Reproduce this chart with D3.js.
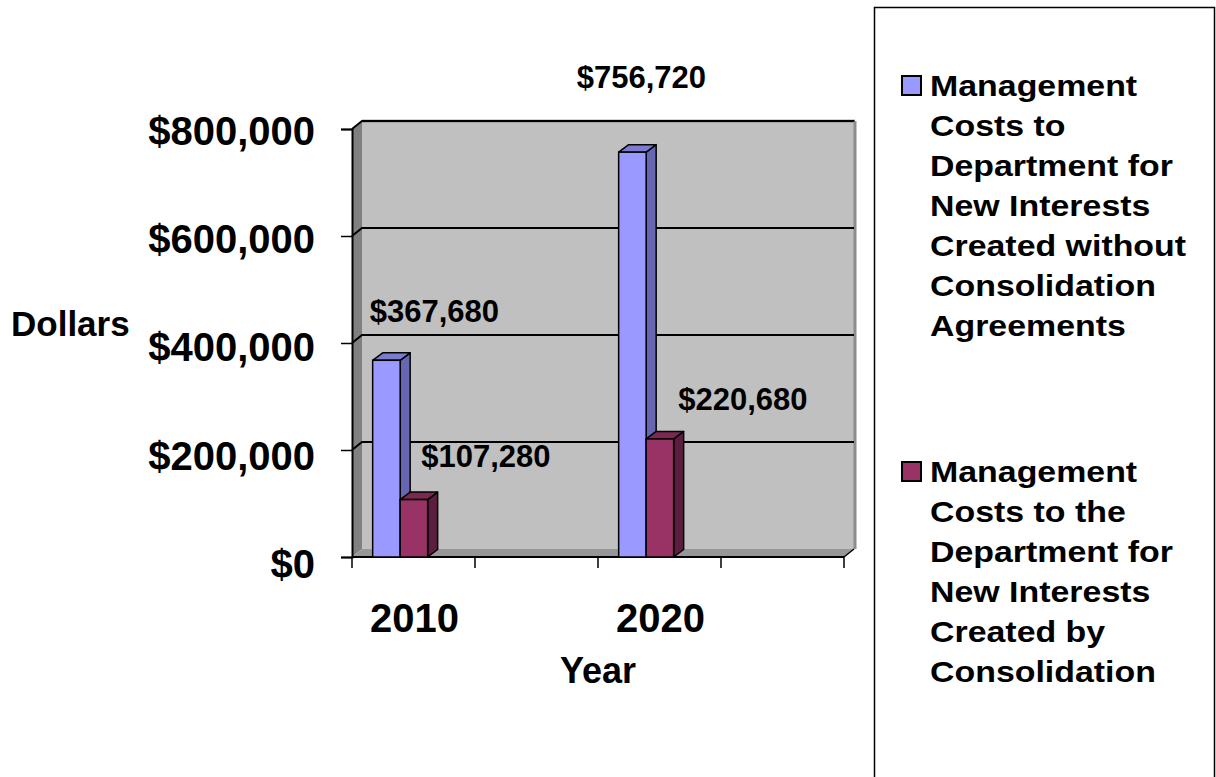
<!DOCTYPE html>
<html>
<head>
<meta charset="utf-8">
<script src="https://cdn.jsdelivr.net/npm/d3@7"></script>
<style>
  html, body { margin: 0; padding: 0; background: #ffffff; }
  svg { display: block; font-family: "Liberation Sans", Arial, sans-serif; font-weight: bold; }
</style>
</head>
<body>
<svg id="chart" width="1216" height="777"></svg>
<script>
// ---- data ----
const categories = ["2010", "2020"];
const seriesNames = [
  "Management Costs to Department for New Interests Created without Consolidation Agreements",
  "Management Costs to the Department for New Interests Created by Consolidation"
];
const withoutAgreements = [367680, 756720];
const byConsolidation   = [107280, 220680];
const yTicks = [0, 200000, 400000, 600000, 800000];
const legendLines = [
  ["Management", "Costs to", "Department for", "New Interests", "Created without", "Consolidation", "Agreements"],
  ["Management", "Costs to the", "Department for", "New Interests", "Created by", "Consolidation"]
];

// ---- layout ----
const svg = d3.select("#chart");
const frontLeft = 352, frontRight = 844, frontBottom = 557, frontTop = 129;
const depth = { dx: 10, dy: -8 };
const barDepth = { dx: 10, dy: -7.5 };
const slotCount = 4;               // each category takes every other slot
const categorySlot = [0, 2];

const y = d3.scaleLinear().domain([0, 800000]).range([frontBottom, frontTop]);
const xSlot = d3.scaleBand().domain(d3.range(slotCount)).range([frontLeft, frontRight]).padding(0);
const bw = xSlot.bandwidth();
const xSeries = d3.scaleBand().domain([0, 1]).range([bw * 0.168, bw * 0.615]).padding(0);

const fills = [
  { front: "#9999ff", top: "#7b7bd0", side: "#6666b3" },
  { front: "#993366", top: "#7a2952", side: "#5c1e3f" }
];
const fmt = v => "$" + d3.format(",")(v);

// ---- walls & floor ----
const backX0 = frontLeft + depth.dx, backX1 = frontRight + depth.dx + 1;
const backY0 = y(800000) + depth.dy, backY1 = y(0) + depth.dy;
svg.append("rect")
  .attr("x", backX0).attr("y", backY0)
  .attr("width", backX1 - backX0).attr("height", backY1 - backY0)
  .attr("fill", "#c0c0c0");
// wall rim
svg.append("path")
  .attr("d", `M${backX0},${backY0}L${backX1},${backY0}`)
  .attr("stroke", "#505050").attr("stroke-width", 2.5).attr("fill", "none");
svg.append("path")
  .attr("d", `M${backX1},${backY0}L${backX1},${backY1}`)
  .attr("stroke", "#8c8c8c").attr("stroke-width", 3).attr("fill", "none");

// side wall
svg.append("path")
  .attr("d", `M${frontLeft},${y(0)}L${frontLeft},${y(800000)}L${backX0},${backY0}L${backX0},${backY1}Z`)
  .attr("fill", "#808080");
// floor
svg.append("path")
  .attr("d", `M${frontLeft},${y(0)}L${frontRight},${y(0)}L${frontRight + depth.dx},${y(0) + depth.dy}L${backX0},${backY1}Z`)
  .attr("fill", "#979797");
svg.append("path")
  .attr("d", `M${frontRight},${y(0)}L${frontRight + depth.dx},${y(0) + depth.dy}`)
  .attr("stroke", "#000").attr("stroke-width", 1.5).attr("fill", "none");

// gridlines across side and back walls
svg.append("g").selectAll("path").data(yTicks.filter(t => t > 0)).join("path")
  .attr("d", t => `M${frontLeft},${y(t)}L${backX0},${y(t) + depth.dy}L${backX1 - 1},${y(t) + depth.dy}`)
  .attr("stroke", "#000").attr("stroke-width", 2).attr("fill", "none");

// value axis
const yAxis = svg.append("g").attr("transform", `translate(${frontLeft},0)`)
  .call(d3.axisLeft(y).tickValues(yTicks).tickSize(11).tickFormat(fmt));
yAxis.select(".domain").attr("stroke", "#000").attr("stroke-width", 2);
yAxis.selectAll(".tick line").attr("stroke", "#000").attr("stroke-width", 1.5);
yAxis.selectAll(".tick text")
  .attr("x", -37)
  .attr("y", t => 1 + (1 - t / 800000) * 5)
  .attr("dy", "0.36em")
  .attr("font-size", 40).attr("font-weight", "bold").attr("fill", "#000")
  .attr("font-family", "Liberation Sans, Arial, sans-serif");

// category axis
svg.append("path")
  .attr("d", `M${frontLeft},${y(0)}L${frontRight},${y(0)}`)
  .attr("stroke", "#000").attr("stroke-width", 2);
svg.append("g").selectAll("line").data(d3.range(slotCount + 1)).join("line")
  .attr("x1", i => frontLeft + i * bw).attr("x2", i => frontLeft + i * bw)
  .attr("y1", y(0)).attr("y2", y(0) + 11)
  .attr("stroke", "#000").attr("stroke-width", 1.5);
svg.append("g").selectAll("text").data(categories).join("text")
  .attr("x", (d, i) => xSlot(categorySlot[i]) + bw / 2 + 1)
  .attr("y", 632)
  .attr("text-anchor", "middle")
  .attr("font-size", 40)
  .text(d => d);

// axis titles
svg.append("text").attr("x", 11).attr("y", 336).attr("font-size", 35).text("Dollars");
svg.append("text").attr("x", 598).attr("y", 683).attr("text-anchor", "middle")
  .attr("font-size", 36).text("Year");

// ---- bars ----
const series = [withoutAgreements, byConsolidation];
const bars = [];
categories.forEach((c, ci) => {
  series.forEach((vals, si) => {
    bars.push({ ci, si, v: vals[ci] });
  });
});
const barW = xSeries.bandwidth();
const barG = svg.append("g").selectAll("g").data(bars).join("g");
const bx = d => xSlot(categorySlot[d.ci]) + xSeries(d.si);
barG.append("path") // side face
  .attr("d", d => {
    const x1 = bx(d) + barW, yt = y(d.v), yb = y(0);
    return `M${x1},${yt}L${x1 + barDepth.dx},${yt + barDepth.dy}L${x1 + barDepth.dx},${yb + barDepth.dy}L${x1},${yb}Z`;
  })
  .attr("fill", d => fills[d.si].side).attr("stroke", "#000").attr("stroke-width", 1.5).attr("stroke-linejoin", "round");
barG.append("path") // top face
  .attr("d", d => {
    const x0 = bx(d), yt = y(d.v);
    return `M${x0},${yt}L${x0 + barDepth.dx},${yt + barDepth.dy}L${x0 + barW + barDepth.dx},${yt + barDepth.dy}L${x0 + barW},${yt}Z`;
  })
  .attr("fill", d => fills[d.si].top).attr("stroke", "#000").attr("stroke-width", 1.5).attr("stroke-linejoin", "round");
barG.append("rect") // front face
  .attr("x", d => bx(d)).attr("y", d => y(d.v))
  .attr("width", barW).attr("height", d => y(0) - y(d.v))
  .attr("fill", d => fills[d.si].front).attr("stroke", "#000").attr("stroke-width", 1.5);

// ---- value labels ----
const labelShift = [
  [{ dx: 48, dy: -38 }, { dx: 72, dy: -33 }],
  [{ dx: 9, dy: -64 }, { dx: 83, dy: -29 }]
];
svg.append("g").selectAll("text").data(bars).join("text")
  .attr("x", d => bx(d) + barW / 2 + labelShift[d.ci][d.si].dx)
  .attr("y", d => y(d.v) + labelShift[d.ci][d.si].dy)
  .attr("text-anchor", "middle")
  .attr("font-size", 31)
  .text(d => fmt(d.v));

// ---- legend ----
svg.append("rect")
  .attr("x", 874.5).attr("y", 7.5).attr("width", 340).attr("height", 800)
  .attr("fill", "#fff").attr("stroke", "#000").attr("stroke-width", 1.5);
const legendTop = [96, 482];
const legend = svg.append("g").selectAll("g").data(seriesNames).join("g");
legend.append("rect")
  .attr("x", 902).attr("y", (d, i) => legendTop[i] - 20)
  .attr("width", 19).attr("height", 19)
  .attr("fill", (d, i) => fills[i].front).attr("stroke", "#000").attr("stroke-width", 2);
legend.append("text")
  .attr("transform", (d, i) => `translate(930,${legendTop[i]}) scale(1.13,1)`)
  .attr("font-size", 30)
  .selectAll("tspan").data((d, i) => legendLines[i]).join("tspan")
  .attr("x", 0).attr("y", (d, j) => j * 40)
  .text(d => d);
</script>
</body>
</html>
